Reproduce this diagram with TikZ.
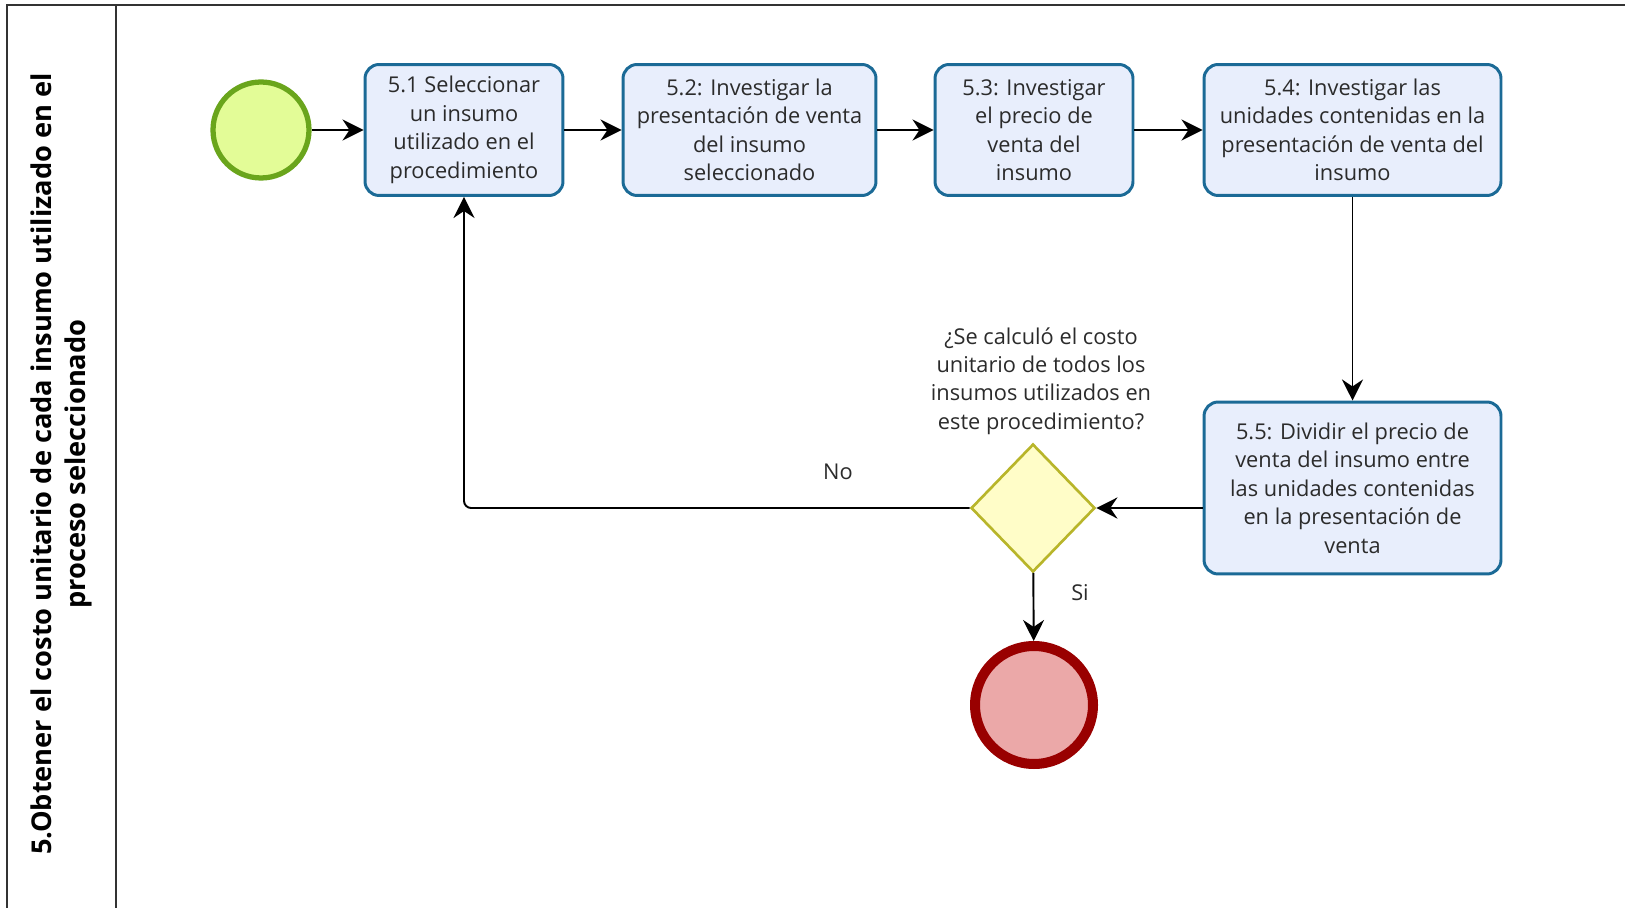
\documentclass[tikz,border=0pt]{standalone}
\usepackage{fontspec}
\setmainfont{Open Sans}
\usetikzlibrary{arrows.meta,shapes.geometric}
\definecolor{taskfill}{HTML}{E8EEFC}
\definecolor{taskline}{HTML}{1B6A96}
\definecolor{startfill}{HTML}{E3FC97}
\definecolor{startline}{HTML}{6AA51C}
\definecolor{gatefill}{HTML}{FFFDC8}
\definecolor{gateline}{HTML}{B8B52A}
\definecolor{endfill}{HTML}{EBA8A8}
\definecolor{endline}{HTML}{990000}
\definecolor{txt}{HTML}{2B2B2B}
\tikzset{
  task/.style={draw=taskline, fill=taskfill, line width=1.7pt, rounded corners=8pt,
    minimum width=3.96cm, minimum height=2.62cm, inner sep=0pt, align=center,
    text=txt, font=\fontsize{12.4}{16.2}\selectfont},
  flow/.style={line width=1.1pt, -{Stealth[length=12pt,width=12pt,inset=4pt]}},
  lane/.style={line width=1.1pt, draw=black!80}
}
\begin{document}
\begin{tikzpicture}[x=0.02cm,y=-0.02cm]
\useasboundingbox (0,0) rectangle (1625,908);
% pool
\draw [lane](7,908) -- (7,5) -- (1625,5);
\draw [lane](116,5) -- (116,908);
\node (pool) [rotate=90, align=center, font=\bfseries\fontsize{15.5}{19.3}\selectfont] at (61,464)
  {5.Obtener el costo unitario de cada insumo utilizado en el\\ proceso seleccionado};
% events and tasks
\node (start) [circle, draw=startline, fill=startfill, line width=3pt, minimum size=1.92cm, inner sep=0pt] at (261,130) {};
\node (t51) [task] at (464,130) {5.1 Seleccionar\\ un insumo\\ utilizado en el\\ procedimiento};
\node (t52) [task, minimum width=5.06cm] at (749.5,130) {5.2: Investigar la\\ presentación de venta\\ del insumo\\ seleccionado};
\node (t53) [task] at (1034,130) {5.3: Investigar\\ el precio de\\ venta del\\ insumo};
\node (t54) [task, minimum width=5.94cm] at (1352.5,130) {5.4: Investigar las\\ unidades contenidas en la\\ presentación de venta del\\ insumo};
\node (t55) [task, minimum width=5.94cm, minimum height=3.44cm] at (1352.5,488) {5.5: Dividir el precio de\\ venta del insumo entre\\ las unidades contenidas\\ en la presentación de\\ venta};
\node (gate) [diamond, draw=gateline, fill=gatefill, line width=1.5pt, minimum width=2.48cm, minimum height=2.56cm, inner sep=0pt] at (1033,508) {};
\node (gatetxt) [align=center, text=txt, font=\fontsize{12.4}{16.2}\selectfont] at (1041,381)
  {¿Se calculó el costo\\ unitario de todos los\\ insumos utilizados en\\ este procedimiento?};
\node (end) [circle, draw=endline, fill=endfill, line width=5.7pt, minimum size=2.36cm, inner sep=0pt] at (1034,705) {};
% flows
\draw [flow](start) -- (t51);
\draw [flow](t51) -- (t52);
\draw [flow](t52) -- (t53);
\draw [flow](t53) -- (t54);
\draw [flow](t54) -- (t55);
\draw [flow](t55.west |- gate.east) -- (gate.east);
\draw [flow, rounded corners=4pt](gate.west) -| (t51.south);
\draw [flow](gate) -- (end);
\node (no) [text=txt, font=\fontsize{12.4}{16.2}\selectfont] at (838,472) {No};
\node (si) [text=txt, font=\fontsize{12.4}{16.2}\selectfont] at (1080,593) {Si};
\end{tikzpicture}
\end{document}
